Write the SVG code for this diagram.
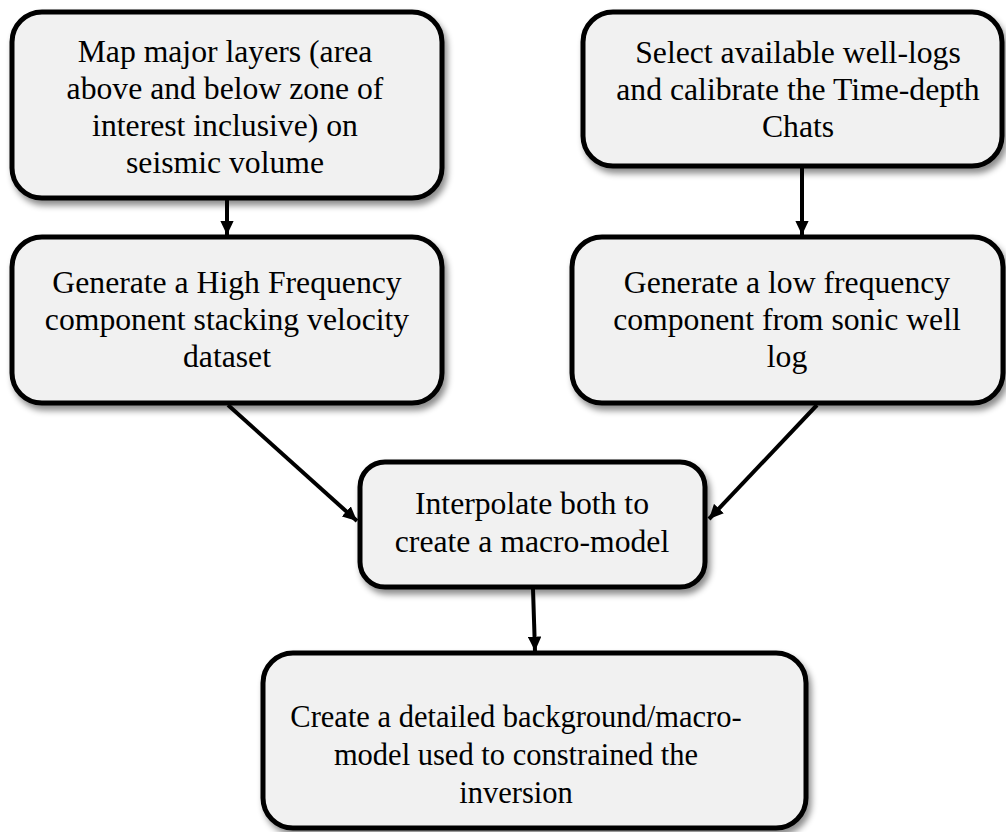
<svg xmlns="http://www.w3.org/2000/svg" width="1006" height="832" viewBox="0 0 1006 832">
<style>
.box{fill:#f1f1f1;stroke:#000;stroke-width:5;filter:url(#sh)}
.t{font-size:31.7px;fill:#000;text-anchor:middle}
.c{stroke:#000;stroke-width:4;fill:none;marker-end:url(#ah)}
</style>
<defs>
<filter id="sh" x="-10%" y="-10%" width="125%" height="130%">
<feDropShadow dx="3" dy="5" stdDeviation="3" flood-color="#000" flood-opacity="0.45"/>
</filter>
<marker id="ah" viewBox="0 0 10 10" refX="10" refY="5" markerWidth="3.6" markerHeight="3.4" markerUnits="strokeWidth" orient="auto" preserveAspectRatio="none">
<path d="M0,0 L10,5 L0,10 z" fill="#000"/>
</marker>
</defs>
<g font-family="'Liberation Serif', 'Times New Roman', Tinos, 'DejaVu Serif', serif">
<g id="n1"><rect class="box" x="12" y="12" width="430" height="186" rx="30"/>
<text class="t"><tspan x="225" y="62">Map major layers (area</tspan><tspan x="225" y="99">above and below zone of</tspan><tspan x="225" y="136">interest inclusive) on</tspan><tspan x="225" y="173">seismic volume</tspan></text></g>
<g id="n2"><rect class="box" x="583" y="12" width="419" height="154" rx="30"/>
<text class="t"><tspan x="798" y="63">Select available well-logs</tspan><tspan x="798" y="100">and calibrate the Time-depth</tspan><tspan x="798" y="137">Chats</tspan></text></g>
<g id="n3"><rect class="box" x="12" y="237" width="430" height="166" rx="30"/>
<text class="t"><tspan x="227" y="293">Generate a High Frequency</tspan><tspan x="227" y="330">component stacking velocity</tspan><tspan x="227" y="367">dataset</tspan></text></g>
<g id="n4"><rect class="box" x="572" y="237" width="431" height="166" rx="30"/>
<text class="t"><tspan x="787" y="293">Generate a low frequency</tspan><tspan x="787" y="330">component from sonic well</tspan><tspan x="787" y="367">log</tspan></text></g>
<g id="n5"><rect class="box" x="360" y="462" width="345" height="125" rx="25"/>
<text class="t"><tspan x="532" y="514">Interpolate both to</tspan><tspan x="532" y="552">create a macro-model</tspan></text></g>
<g id="n6"><rect class="box" x="263" y="653" width="543" height="175" rx="30"/>
<text class="t" style="font-size:30.5px"><tspan x="516" y="727">Create a detailed background/macro-</tspan><tspan x="516" y="765">model used to constrained the</tspan><tspan x="516" y="803">inversion</tspan></text></g>
</g>
<g id="connectors">
<line class="c" x1="227" y1="200" x2="227" y2="235"/>
<line class="c" x1="802" y1="168" x2="802" y2="235"/>
<line class="c" x1="228" y1="405" x2="357" y2="521"/>
<line class="c" x1="817" y1="405" x2="709" y2="519"/>
<line class="c" x1="533" y1="589" x2="535" y2="651"/>
</g>
</svg>
